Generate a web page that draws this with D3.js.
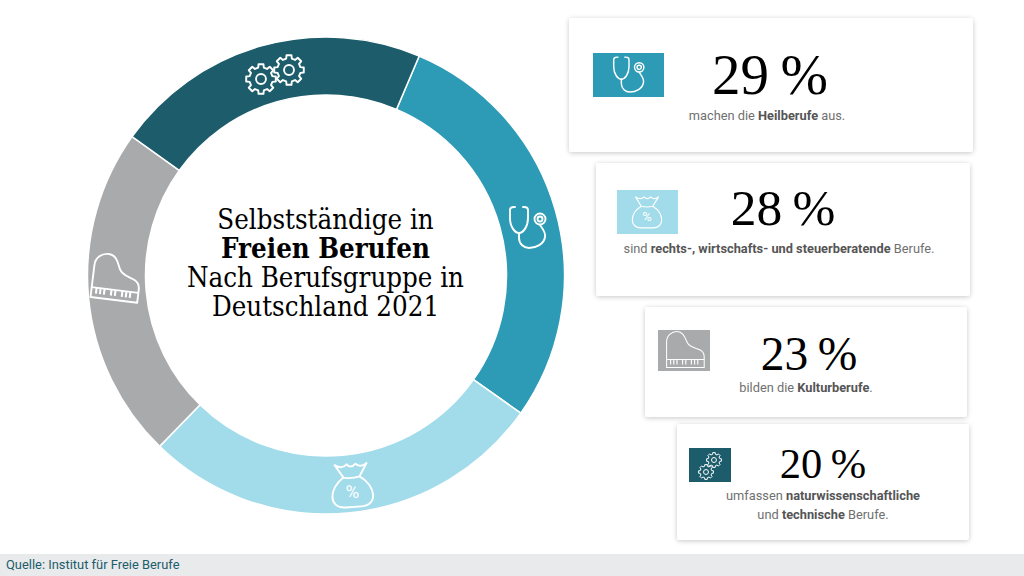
<!DOCTYPE html>
<html lang="de">
<head>
<meta charset="utf-8">
<title>Selbstständige in Freien Berufen</title>
<script src="https://cdn.jsdelivr.net/npm/d3@7"></script>
<style>
  html, body { margin: 0; background: #fff; }
  svg { display: block; }
  .serif { font-family: "Liberation Serif", serif; fill: #000; }
  .title { font-family: "DejaVu Serif Condensed", "DejaVu Serif", serif; fill: #000; }
  .sans { font-family: Roboto, sans-serif; }
</style>
</head>
<body>
<div id="graph"></div>
<script>
// values
const groups = ["Heilberufe", "Rechts-, Wirtschafts- und Steuerberatung", "Kulturberufe", "Technik"];
const printedShares = [29, 28, 23, 20];
const ringShares = [28.4, 27.5, 22.6, 21.5]; // ring in the picture is not exactly the printed share
const captions = [
  [[["machen die ", 0], ["Heilberufe", 1], [" aus.", 0]]],
  [[["sind ", 0], ["rechts-, wirtschafts- und steuerberatende", 1], [" Berufe.", 0]]],
  [[["bilden die ", 0], ["Kulturberufe", 1], [".", 0]]],
  [[["umfassen ", 0], ["naturwissenschaftliche", 1]], [["und ", 0], ["technische", 1], [" Berufe.", 0]]]
];
const titleLines = [["Selbstständige in", 0], ["Freien Berufen", 1], ["Nach Berufsgruppe in", 0], ["Deutschland 2021", 0]];
const source = "Quelle: Institut für Freie Berufe";

const colors = ["#2e9bb6", "#a2dcea", "#a9aaac", "#1c5c6b"];

const width = 1024, height = 576;
const cx = 326, cy = 275.5, outerR = 238.5, innerR = 180.5;
const startDeg = 23;

const svg = d3.select("#graph").append("svg").attr("width", width).attr("height", height);

const shadow = svg.append("defs").append("filter").attr("id", "shadow")
  .attr("x", "-5%").attr("y", "-8%").attr("width", "110%").attr("height", "120%");
shadow.append("feDropShadow").attr("dx", 0).attr("dy", 1)
  .attr("stdDeviation", 2.5).attr("flood-color", "#000").attr("flood-opacity", 0.22);

// ---- icons, drawn around 0,0
function stethoscope(g, w) {
  const p = g.append("g").attr("fill", "none").attr("stroke", "#fff").attr("stroke-width", w).attr("stroke-linecap", "round");
  p.append("path").attr("d", "M-13,-21 h-1 q-4,0 -4,3 v8 c0,9 5,15 9,15 s9,-6 9,-15 v-8 q0,-3 -4,-3 h-1");
  p.append("path").attr("d", "M-9,5 v5 c0,6 5,10 10,10 c7,0 15,-4 16,-11 c1,-5 -3,-9 -5,-12");
  p.append("circle").attr("cx", 12).attr("cy", -9).attr("r", 5.5);
  p.append("circle").attr("cx", 12).attr("cy", -9).attr("r", 2.5);
}

function bag(g, w) {
  const p = g.append("g").attr("fill", "none").attr("stroke", "#fff").attr("stroke-width", w).attr("stroke-linejoin", "round");
  p.append("path").attr("d", "M-8,-8 C-24,2 -25,22 -8,22 L8,22 C25,22 24,2 8,-8");
  p.append("path").attr("d", "M-8,-8 L-16,-21 Q-9,-16 -4,-21 Q0,-16 5,-21 Q10,-16 16,-21 L8,-8 Q0,-6 -8,-8 Z");
  g.append("text").attr("class", "sans").attr("text-anchor", "middle").attr("y", 13)
    .attr("font-size", 18).attr("fill", "#fff").text("%");
}

function piano(g, w) {
  const p = g.append("g").attr("fill", "none").attr("stroke", "#fff").attr("stroke-width", w).attr("stroke-linejoin", "round");
  p.append("path").attr("d", "M-23,13 V-10 C-23,-18 -17,-23 -10,-23 C-2,-23 0,-15 3,-9 C6,-3 13,-3 19,0 C23,2 24,5 24,9 V22 H-23 Z");
  p.append("path").attr("d", "M-23,12 H24");
  const keys = [-18, -14, -10, -3, 1, 8, 12, 16];
  p.selectAll("path.key").data(keys).join("path").attr("class", "key")
    .attr("d", d => `M${d},12 v6`).attr("stroke-width", w * 1.1);
}

function gear(g, x, y, r, w) {
  const n = 8, pts = [];
  for (let i = 0; i < n; i++) {
    const a = i * 2 * Math.PI / n;
    const t = Math.PI / n;
    pts.push([a - t * 0.42, r], [a + t * 0.42, r], [a + t * 0.62, r * 0.78], [a + t * 1.38, r * 0.78]);
  }
  const outline = d3.lineRadial().curve(d3.curveLinearClosed)(pts);
  const p = g.append("g").attr("transform", `translate(${x},${y})`).attr("fill", "none")
    .attr("stroke", "#fff").attr("stroke-width", w).attr("stroke-linejoin", "round");
  p.append("path").attr("d", outline);
  p.append("circle").attr("r", r * 0.33);
}

// ---- ring
const pie = d3.pie().sort(null).value(d => d)
  .startAngle(startDeg * Math.PI / 180).endAngle((startDeg + 360) * Math.PI / 180);
const arc = d3.arc().innerRadius(innerR).outerRadius(outerR);

const ring = svg.append("g").attr("transform", `translate(${cx},${cy})`);
ring.selectAll("path").data(pie(ringShares)).join("path")
  .attr("d", arc)
  .attr("fill", (d, i) => colors[i])
  .attr("stroke", "#fff").attr("stroke-width", 1.5);

stethoscope(svg.append("g").attr("transform", "translate(528,228)"), 1.9);
bag(svg.append("g").attr("transform", "translate(352,485) rotate(-4)"), 1.9);
piano(svg.append("g").attr("transform", "translate(116,278) rotate(7)"), 1.9);
const ringGears = svg.append("g");
gear(ringGears, 261, 79, 15, 1.9);
gear(ringGears, 289, 70, 15, 1.9);

// ---- centre title
svg.append("g").selectAll("text").data(titleLines).join("text")
  .attr("class", "title")
  .attr("x", 325.5)
  .attr("y", (d, i) => 229 + i * 29)
  .attr("text-anchor", "middle")
  .attr("font-size", 27.4)
  .attr("font-weight", d => d[1] ? 700 : 400)
  .text(d => d[0]);

// ---- cards
const cardBoxes = [
  { x: 569, y: 18, w: 404, h: 134, tile: [593, 53, 71, 44], nx: 770, ny: 94, fs: 57, tx: 767, ty: 120 },
  { x: 596, y: 163, w: 374, h: 133, tile: [617, 190, 61, 44], nx: 783, ny: 225, fs: 51.5, tx: 779, ty: 253 },
  { x: 645, y: 307, w: 322, h: 110, tile: [658, 330, 52, 41], nx: 809, ny: 370, fs: 47.5, tx: 806, ty: 392 },
  { x: 677, y: 424, w: 292, h: 116, tile: [689, 448, 42, 34], nx: 823, ny: 478, fs: 42.5, tx: 823, ty: 500 }
];

cardBoxes.forEach((b, i) => {
  const card = svg.append("g");
  card.append("rect").attr("x", b.x).attr("y", b.y).attr("width", b.w).attr("height", b.h)
    .attr("rx", 3).attr("fill", "#fff").attr("filter", "url(#shadow)");
  card.append("rect").attr("x", b.tile[0]).attr("y", b.tile[1]).attr("width", b.tile[2]).attr("height", b.tile[3])
    .attr("fill", colors[i]);
  card.append("text").attr("class", "serif").attr("x", b.nx).attr("y", b.ny)
    .attr("text-anchor", "middle").attr("font-size", b.fs).text(printedShares[i] + "\u2009%");
  captions[i].forEach((line, k) => {
    const t = card.append("text").attr("class", "sans").attr("x", b.tx).attr("y", b.ty + k * 19)
      .attr("text-anchor", "middle").attr("font-size", 12.8);
    line.forEach(part => t.append("tspan").attr("font-weight", part[1] ? 700 : 400)
      .attr("fill", part[1] ? "#555" : "#707070")
      .style("white-space", "pre").text(part[0]));
  });
});

stethoscope(svg.append("g").attr("transform", "translate(629,75) scale(0.85)"), 1.7);
bag(svg.append("g").attr("transform", "translate(647,212) scale(0.72)"), 1.6);
piano(svg.append("g").attr("transform", "translate(685,350) scale(0.8)"), 1.3);
const tileGears = svg.append("g");
gear(tileGears, 714, 460, 7.5, 1);
gear(tileGears, 706, 472, 7.5, 1);

// ---- source band
svg.append("rect").attr("x", 0).attr("y", 554).attr("width", width).attr("height", 22).attr("fill", "#e9eaec");
svg.append("text").attr("class", "sans").attr("x", 6).attr("y", 569)
  .attr("font-size", 12.9).attr("fill", "#1c5c6b").text(source);
</script>
</body>
</html>
